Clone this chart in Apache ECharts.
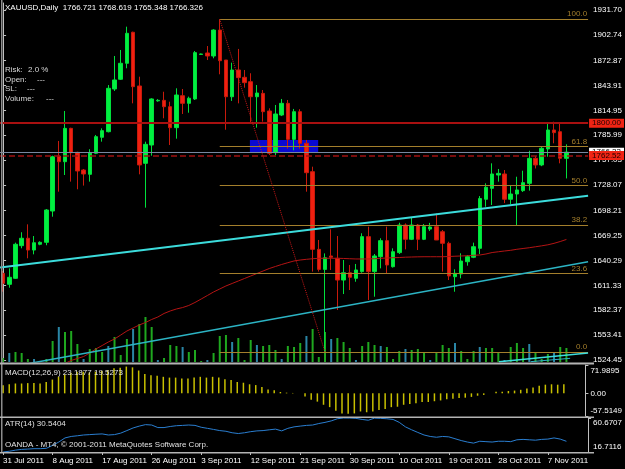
<!DOCTYPE html>
<html>
<head>
<meta charset="utf-8">
<script src="https://cdn.jsdelivr.net/npm/echarts@6/dist/echarts.min.js"></script>
<style>
  html, body { margin: 0; padding: 0; background: #000; }
  #chart { width: 625px; height: 469px; }
</style>
</head>
<body>
<div id="chart"></div>
<script>
// date labels shown every 8 bars
var dateLabels = ['31 Jul 2011', '8 Aug 2011', '17 Aug 2011', '26 Aug 2011', '3 Sep 2011', '12 Sep 2011',
  '21 Sep 2011', '30 Sep 2011', '10 Oct 2011', '19 Oct 2011', '28 Oct 2011', '7 Nov 2011'];

// daily XAUUSD bars
var open = [1625.3, 1612.5, 1619.5, 1657.5, 1666.1, 1652.4, 1659.1, 1661.4, 1697.8, 1761.8,
  1755.2, 1794.0, 1766.1, 1745.5, 1740.5, 1765.0, 1783.6, 1790.1, 1839.8, 1851.1,
  1869.7, 1905.8, 1843.3, 1753.3, 1774.6, 1826.0, 1826.6, 1819.2, 1794.8, 1832.0,
  1823.1, 1828.2, 1880.0, 1881.7, 1878.2, 1908.4, 1873.5, 1830.8, 1861.9, 1853.4,
  1848.3, 1830.8, 1834.7, 1814.2, 1765.7, 1809.5, 1823.1, 1781.2, 1813.4, 1776.6,
  1743.6, 1653.2, 1629.9, 1645.5, 1642.8, 1617.5, 1626.0, 1619.5, 1627.3, 1668.0,
  1627.3, 1644.7, 1663.3, 1633.0, 1649.4, 1681.5, 1664.9, 1681.5, 1664.9, 1676.8,
  1679.6, 1673.7, 1660.2, 1621.4, 1624.5, 1638.8, 1644.0, 1654.4, 1711.5, 1724.2,
  1739.7, 1740.9, 1711.5, 1717.6, 1721.5, 1730.0, 1759.1, 1751.4, 1770.0, 1792.1,
  1790.1, 1759.1];
var high = [1628.0, 1631.1, 1661.0, 1673.1, 1682.3, 1668.7, 1662.5, 1700.1, 1762.2, 1779.3,
  1814.2, 1794.7, 1766.8, 1746.7, 1769.7, 1786.3, 1794.0, 1844.4, 1878.2, 1885.2,
  1912.3, 1906.5, 1854.1, 1778.5, 1829.0, 1828.0, 1836.6, 1825.0, 1840.6, 1839.8,
  1830.9, 1884.0, 1881.0, 1889.8, 1909.3, 1920.9, 1873.5, 1870.4, 1886.4, 1861.9,
  1858.1, 1844.4, 1838.6, 1817.3, 1821.2, 1828.2, 1827.0, 1816.6, 1816.3, 1780.5,
  1749.4, 1664.1, 1648.5, 1676.5, 1668.7, 1640.8, 1635.0, 1636.2, 1671.9, 1679.6,
  1647.8, 1666.1, 1679.6, 1654.4, 1684.2, 1683.4, 1690.3, 1682.7, 1682.7, 1684.0,
  1694.9, 1675.7, 1662.1, 1630.0, 1648.6, 1646.6, 1661.0, 1715.2, 1730.0, 1753.3,
  1746.7, 1745.5, 1728.1, 1737.7, 1744.7, 1767.9, 1761.8, 1772.7, 1799.1, 1801.7,
  1799.1, 1775.4];
var low = [1603.9, 1608.6, 1618.7, 1654.4, 1642.8, 1647.4, 1658.0, 1658.0, 1691.2, 1720.3,
  1739.7, 1732.0, 1723.1, 1727.4, 1732.0, 1764.0, 1778.5, 1789.3, 1837.5, 1850.3,
  1863.9, 1823.1, 1740.5, 1701.7, 1762.2, 1825.0, 1805.7, 1774.6, 1782.0, 1810.7,
  1812.2, 1827.0, 1879.5, 1873.5, 1875.5, 1856.9, 1792.4, 1825.9, 1823.1, 1841.3,
  1799.9, 1794.8, 1801.8, 1762.9, 1762.9, 1808.3, 1770.4, 1768.4, 1770.4, 1720.3,
  1627.3, 1627.3, 1533.8, 1629.2, 1582.6, 1601.2, 1605.9, 1615.5, 1626.0, 1594.3,
  1598.1, 1631.1, 1625.3, 1632.0, 1647.8, 1653.2, 1664.0, 1652.4, 1664.0, 1674.5,
  1664.0, 1627.3, 1617.5, 1603.9, 1619.5, 1634.2, 1643.0, 1647.8, 1702.8, 1704.8,
  1732.0, 1707.0, 1706.0, 1680.4, 1720.0, 1721.5, 1747.3, 1750.0, 1761.0, 1776.6,
  1753.3, 1735.7];
var close = [1613.7, 1620.7, 1659.1, 1666.1, 1652.4, 1660.9, 1661.4, 1699.0, 1761.0, 1755.2,
  1794.0, 1765.7, 1744.4, 1740.9, 1765.7, 1784.3, 1791.3, 1840.6, 1850.3, 1869.7,
  1904.6, 1842.5, 1751.4, 1775.4, 1828.2, 1826.6, 1819.2, 1794.8, 1832.8, 1823.1,
  1829.0, 1882.1, 1880.5, 1878.2, 1908.4, 1872.7, 1830.8, 1861.9, 1853.0, 1847.2,
  1830.8, 1835.1, 1813.4, 1765.0, 1810.7, 1823.1, 1781.2, 1813.4, 1776.6, 1742.4,
  1653.2, 1629.9, 1643.4, 1644.0, 1617.5, 1626.0, 1620.7, 1629.2, 1668.0, 1627.3,
  1645.5, 1663.3, 1635.0, 1650.5, 1681.5, 1664.9, 1681.5, 1664.9, 1679.6, 1679.2,
  1664.1, 1660.2, 1622.2, 1625.3, 1639.6, 1644.7, 1656.3, 1712.3, 1725.4, 1740.9,
  1741.6, 1711.5, 1717.6, 1722.3, 1730.8, 1759.1, 1751.4, 1770.8, 1792.1, 1789.0,
  1759.1, 1766.3];

// tick volume (thousands)
var volume = [4, 9, 10, 9, 3, 3, 1, 3, 21, 35, 30, 31, 18, 3, 13, 14, 10, 16, 25, 7,
  23, 33, 38, 45, 35, 2, 4, 17, 16, 15, 10, 12, 1, 2, 9, 26, 27, 20, 24, 2,
  22, 17, 16, 17, 12, 3, 16, 15, 19, 26, 33, 5, 30, 23, 24, 20, 14, 2, 16, 20,
  17, 16, 15, 3, 11, 13, 12, 13, 9, 2, 10, 17, 14, 19, 11, 3, 11, 15, 14, 14,
  9, 2, 15, 19, 14, 18, 9, 3, 8, 10, 15, 14];

// moving average (red line)
var maValues = ['-', '-', '-', '-', '-', '-', '-', '-', '-', '-',
  1520.5, 1523.9, 1526.2, 1528.5, 1532.6, 1537.3, 1541.3, 1545.4, 1548.9, 1553.5,
  1558.2, 1561.7, 1565.2, 1568.1, 1571.6, 1574.5, 1578.6, 1581.5, 1583.8, 1585.5,
  1587.9, 1591.4, 1595.4, 1599.5, 1603.6, 1607.1, 1610.6, 1613.5, 1616.4, 1619.3,
  1622.2, 1625.1, 1628.0, 1630.9, 1633.3, 1635.6, 1637.7, 1639.7, 1640.8, 1641.6,
  1642.3, 1642.8, 1642.8, 1642.8, 1642.8, 1642.6, 1642.3, 1642.0, 1642.0, 1642.0,
  1642.3, 1642.8, 1643.1, 1643.5, 1643.7, 1644.1, 1644.3, 1644.5, 1644.6, 1644.6,
  1644.6, 1644.6, 1644.9, 1645.2, 1645.5, 1645.8, 1646.3, 1646.6, 1647.8, 1649.5,
  1650.4, 1651.3, 1652.1, 1653.3, 1654.2, 1655.1, 1656.2, 1657.3, 1658.5, 1660.2,
  1662.3, 1664.7];

// MACD(12,26,9) histogram
var macdHist = [20.6, 23, 25, 25, 26, 26, 25, 29, 35, 42, 48, 52, 55, 55, 53, 55, 57, 59, 64, 65,
  68, 66, 58, 49, 46, 45, 42, 40, 40, 38, 38, 40, 42, 40, 42, 40, 36, 34, 29, 27,
  23, 21, 16, 10, 8, 3.4, 1.7, 1, 0.3, -8, -16, -21, -29, -35, -44, -51, -52, -51, -46, -48,
  -46, -42, -40, -35, -34, -29, -27, -25, -22, -22, -20, -18, -15, -14, -12, -11, -9, -6, -4, 0.5,
  4, 4, 6, 7, 9, 12, 15, 19, 22, 23, 22, 23.19];

// ATR(14)
var atrValues = [16.7, 17.7, 19.1, 20.1, 20.5, 21.0, 21.0, 21.5, 25.3, 29.6,
  34.9, 36.8, 37.7, 38.7, 39.2, 39.7, 40.1, 38.7, 39.2, 41.1,
  44.4, 47.8, 50.2, 52.1, 51.6, 48.3, 48.3, 49.7, 50.7, 51.1,
  51.6, 51.1, 48.7, 47.3, 45.9, 44.4, 43.5, 41.6, 40.6, 41.6,
  43.0, 44.0, 44.4, 45.4, 46.3, 44.0, 47.3, 49.2, 50.2, 51.1,
  51.6, 53.5, 55.0, 56.9, 59.7, 60.67, 60.6, 60.2, 58.8, 57.8,
  60.5, 60.2, 59.7, 58.8, 55.0, 49.2, 45.4, 42.0, 38.7, 36.8,
  35.8, 36.8, 36.3, 33.9, 31.5, 29.6, 28.2, 30.6, 30.1, 29.6,
  30.6, 30.6, 30.1, 32.5, 33.0, 32.5, 32.0, 33.0, 33.4, 34.9,
  33.4, 30.54];

// axis tick labels
var priceTicks = [1931.70, 1902.74, 1872.87, 1843.91, 1814.95, 1785.99, 1757.03, 1728.07,
  1698.21, 1669.25, 1640.29, 1611.33, 1582.37, 1553.41, 1524.45];
var macdTicks = [71.9895, 0, -57.5149];
var atrTicks = [60.6707, 16.7116];

// drawn objects (bar index, price)
var fibHigh = 1920.9, fibLow = 1533.8, fibFrom = 35, fibTo = 52;
var fibLevels = [0, 23.6, 38.2, 50, 61.8, 100];
var trendUpper = [[-0.5, 1632.0], [94.5, 1715.6]];
var trendLower = [[0, 1514.9], [94.5, 1638.8]];
var trendSmallA = [[80.1, 1522.5], [94.5, 1532.6]];
var trendSmallB = [[85.2, 1522.5], [91.6, 1526.4]];
var blueBox = [[39.87, 1780.4], [50.9, 1765.7]];
var levelStop = 1800.00, levelBid = 1766.33, levelOrder = 1762.52;

var FONT = "'Liberation Sans Narrow', 'Liberation Sans', sans-serif";
var FIB = '#a47f2c';
var SLOTS = open.length + 3;
var GL = -0.625, GW = 593.75;

var slotNames = [];
for (var i = 0; i < SLOTS; i++) slotNames.push(String(i));
var candles = open.map(function (o, i) { return [o, close[i], low[i], high[i]]; });
function fibPrice(r) { return fibLow + (fibHigh - fibLow) * r / 100; }

function hiddenCat(grid) {
  return { type: 'category', gridIndex: grid, data: slotNames, boundaryGap: true, show: false };
}
function priceLine(value, color, type, width, labelBg, labelColor, z) {
  return {
    type: 'line', xAxisIndex: 1, yAxisIndex: 0, data: [], z: z, silent: true,
    markLine: {
      silent: true, symbol: ['none', 'none'], animation: false,
      lineStyle: { color: color, type: type, width: width },
      label: {
        position: 'end', distance: 1, fontSize: 8, fontFamily: FONT,
        color: labelColor, backgroundColor: labelBg, padding: [1, 3, 0, 3],
        formatter: function (p) { return p.value.toFixed(2); }
      },
      data: [{ yAxis: value }]
    }
  };
}
function trend(data, color, width) {
  return {
    type: 'line', xAxisIndex: 1, yAxisIndex: 0, data: data, showSymbol: false, z: 5,
    silent: true, lineStyle: { color: color, width: width }
  };
}

var chart = echarts.init(document.getElementById('chart'));
var option = {
  backgroundColor: '#000',
  animation: false,
  grid: [
    { left: GL, width: GW, top: 3, height: 359 },
    { left: GL, width: GW, top: 365, height: 51 },
    { left: GL, width: GW, top: 418, height: 34 }
  ],
  xAxis: [
    hiddenCat(0),
    { type: 'value', gridIndex: 0, min: -0.5, max: SLOTS - 0.5, show: false },
    hiddenCat(1),
    {
      type: 'category', gridIndex: 2, data: slotNames, boundaryGap: true,
      axisLine: { lineStyle: { color: '#a0a0a0', width: 1 } },
      axisTick: { show: true, interval: 7, alignWithLabel: true, length: 3, lineStyle: { color: '#c0c0c0' } },
      axisLabel: {
        interval: 7, align: 'left', margin: 5, color: '#fff', fontSize: 8, fontFamily: FONT,
        formatter: function (v, idx) { return dateLabels[idx / 8] || ''; }
      }
    }
  ],
  yAxis: [
    {
      type: 'value', gridIndex: 0, position: 'right', min: 1522.12, max: 1939.86,
      splitLine: { show: false },
      axisLine: { show: true, lineStyle: { color: '#c0c0c0' } },
      axisTick: { show: true, customValues: priceTicks, length: 3, lineStyle: { color: '#c0c0c0' } },
      axisLabel: {
        customValues: priceTicks, margin: 5, color: '#fff', fontSize: 8, fontFamily: FONT,
        formatter: function (v) { return v.toFixed(2); }
      }
    },
    { type: 'value', gridIndex: 0, min: 0, max: 359, show: false },
    {
      type: 'value', gridIndex: 1, position: 'right', min: macdTicks[2], max: macdTicks[0],
      splitLine: { show: false },
      axisLine: { show: true, lineStyle: { color: '#c0c0c0' } },
      axisTick: { show: true, customValues: macdTicks, length: 3, lineStyle: { color: '#c0c0c0' } },
      axisLabel: {
        customValues: macdTicks, margin: 5, color: '#fff', fontSize: 8, fontFamily: FONT,
        formatter: function (v) {
          if (v > 1) return '{t|' + v.toFixed(4) + '}';
          if (v < -1) return '{b|' + v.toFixed(4) + '}';
          return '{m|' + v.toFixed(2) + '}';
        },
        rich: {
          t: { padding: [11, 0, 0, 0], color: '#fff', fontSize: 8, fontFamily: FONT },
          m: { color: '#fff', fontSize: 8, fontFamily: FONT },
          b: { padding: [0, 0, 10, 0], color: '#fff', fontSize: 8, fontFamily: FONT }
        }
      }
    },
    {
      type: 'value', gridIndex: 2, position: 'right', min: atrTicks[1], max: atrTicks[0],
      splitLine: { show: false },
      axisLine: { show: true, lineStyle: { color: '#c0c0c0' } },
      axisTick: { show: true, customValues: atrTicks, length: 3, lineStyle: { color: '#c0c0c0' } },
      axisLabel: {
        customValues: atrTicks, margin: 5, color: '#fff', fontSize: 8, fontFamily: FONT,
        formatter: function (v) {
          return v > 40 ? '{t|' + v.toFixed(4) + '}' : '{b|' + v.toFixed(4) + '}';
        },
        rich: {
          t: { padding: [10, 0, 0, 0], color: '#fff', fontSize: 8, fontFamily: FONT },
          b: { padding: [0, 0, 10, 0], color: '#fff', fontSize: 8, fontFamily: FONT }
        }
      }
    }
  ],
  series: [
    {
      // blue rectangle object
      type: 'line', xAxisIndex: 1, yAxisIndex: 0, data: blueBox, z: 1, silent: true,
      showSymbol: false, lineStyle: { width: 0, opacity: 0 },
      markArea: {
        silent: true, itemStyle: { color: '#0a0ad2', opacity: 1 },
        data: [[{ coord: blueBox[0] }, { coord: blueBox[1] }]]
      }
    },
    {
      type: 'bar', name: 'Volume', xAxisIndex: 0, yAxisIndex: 1, data: volume, barWidth: 2, z: 2,
      silent: true,
      itemStyle: { color: function (p) { return p.dataIndex % 4 === 1 ? '#2a86a6' : '#1fa81f'; } }
    },
    {
      type: 'candlestick', name: 'XAUUSD', xAxisIndex: 0, yAxisIndex: 0, data: candles,
      barWidth: 4, z: 3, silent: true,
      itemStyle: { color: '#00f040', color0: '#f02010', borderColor: '#00e03c', borderColor0: '#c81a0c', borderWidth: 1 }
    },
    {
      type: 'line', name: 'MA', xAxisIndex: 0, yAxisIndex: 0, data: maValues, showSymbol: false,
      z: 4, silent: true, lineStyle: { color: '#b41414', width: 1 }
    },
    trend(trendUpper, '#3cdcdc', 2),
    trend(trendLower, '#2cb4c4', 1.5),
    trend(trendSmallA, '#3cdcdc', 1.5),
    trend(trendSmallB, '#2cb4c4', 1),
    {
      // fibonacci retracement
      type: 'line', xAxisIndex: 1, yAxisIndex: 0, z: 6, silent: true, showSymbol: false,
      data: [[fibFrom, fibHigh], [fibTo, fibLow]],
      lineStyle: { color: '#c81818', width: 1, type: 'dotted' },
      markLine: {
        silent: true, symbol: ['none', 'none'],
        lineStyle: { color: FIB, width: 1, type: 'solid' },
        label: {
          position: 'insideEndTop', distance: [1, 1], color: FIB, fontSize: 8, fontFamily: FONT,
          formatter: '{b}'
        },
        data: fibLevels.map(function (r) {
          return [{ name: r.toFixed(1), coord: [fibFrom, fibPrice(r)] }, { coord: [SLOTS - 0.5, fibPrice(r)] }];
        })
      }
    },
    priceLine(levelStop, '#a81010', 'solid', 2, '#f02414', '#200000', 7),
    priceLine(levelBid, '#7888a0', 'solid', 1, '#ffffff', '#000000', 7),
    priceLine(levelOrder, '#a01010', 'dashed', 1.5, '#f02414', '#200000', 8),
    {
      type: 'bar', name: 'MACD', xAxisIndex: 2, yAxisIndex: 2, data: macdHist, barWidth: 1.5,
      silent: true, itemStyle: { color: '#c8c000' }
    },
    {
      type: 'line', name: 'ATR', xAxisIndex: 3, yAxisIndex: 3, data: atrValues, showSymbol: false,
      silent: true, lineStyle: { color: '#2a7ed0', width: 1 }
    }
  ],
  graphic: [
    { type: 'rect', z: 50, shape: { x: 1, y: 0, width: 1.5, height: 453 }, style: { fill: '#8c8c8c' } },
    { type: 'rect', z: 50, shape: { x: 0, y: 362.5, width: 594, height: 2 }, style: { fill: '#b4b4b4' } },
    { type: 'rect', z: 50, shape: { x: 0, y: 416.5, width: 594, height: 1.5 }, style: { fill: '#b4b4b4' } },
    { type: 'rect', z: 50, shape: { x: 0, y: 452, width: 594, height: 1.5 }, style: { fill: '#b4b4b4' } },
    { type: 'text', z: 60, x: 5, y: 8, style: { text: 'XAUUSD,Daily  1766.721 1768.619 1765.348 1766.326', fill: '#fff', font: '8px ' + FONT, verticalAlign: 'middle' } },
    { type: 'text', z: 60, x: 5, y: 70, style: { text: 'Risk:', fill: '#d8d8d8', font: '8px ' + FONT, verticalAlign: 'middle' } },
    { type: 'text', z: 60, x: 28, y: 70, style: { text: '2.0 %', fill: '#d8d8d8', font: '8px ' + FONT, verticalAlign: 'middle' } },
    { type: 'text', z: 60, x: 5, y: 79.5, style: { text: 'Open:', fill: '#d8d8d8', font: '8px ' + FONT, verticalAlign: 'middle' } },
    { type: 'text', z: 60, x: 37, y: 79.5, style: { text: '---', fill: '#d8d8d8', font: '8px ' + FONT, verticalAlign: 'middle' } },
    { type: 'text', z: 60, x: 5, y: 89, style: { text: 'SL:', fill: '#d8d8d8', font: '8px ' + FONT, verticalAlign: 'middle' } },
    { type: 'text', z: 60, x: 27, y: 89, style: { text: '---', fill: '#d8d8d8', font: '8px ' + FONT, verticalAlign: 'middle' } },
    { type: 'text', z: 60, x: 5, y: 98.5, style: { text: 'Volume:', fill: '#d8d8d8', font: '8px ' + FONT, verticalAlign: 'middle' } },
    { type: 'text', z: 60, x: 46, y: 98.5, style: { text: '---', fill: '#d8d8d8', font: '8px ' + FONT, verticalAlign: 'middle' } },
    { type: 'text', z: 60, x: 5, y: 373, style: { text: 'MACD(12,26,9) 23.1877 19.5273', fill: '#e0e0e0', font: '8px ' + FONT, verticalAlign: 'middle' } },
    { type: 'text', z: 60, x: 5, y: 424, style: { text: 'ATR(14) 30.5404', fill: '#e0e0e0', font: '8px ' + FONT, verticalAlign: 'middle' } },
    { type: 'text', z: 60, x: 5, y: 445, style: { text: 'OANDA - MT4, \u00a9 2001-2011 MetaQuotes Software Corp.', fill: '#e0e0e0', font: '8px ' + FONT, verticalAlign: 'middle' } }
  ]
};
chart.setOption(option);
</script>
</body>
</html>
